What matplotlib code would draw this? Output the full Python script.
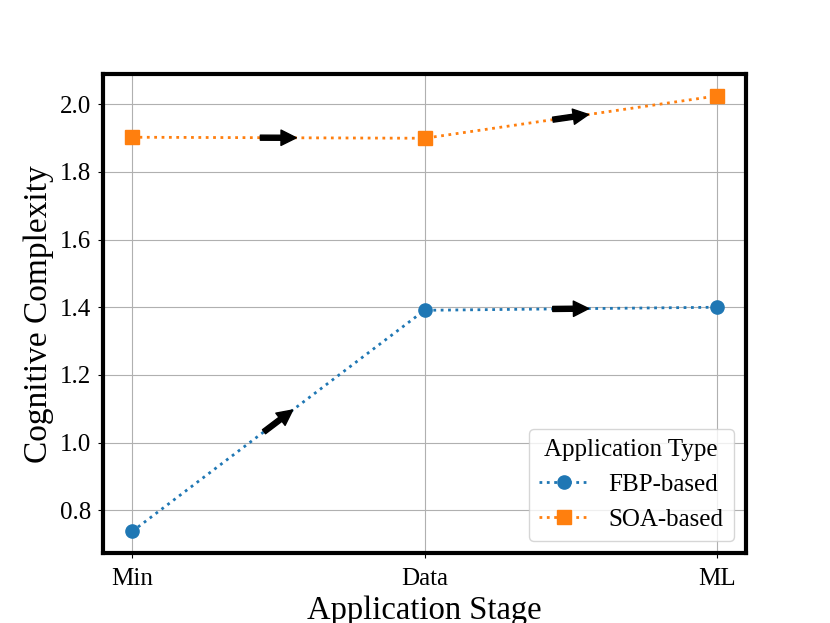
import numpy as np
import matplotlib.pyplot as plt

plt.rcParams['font.family'] = ['Liberation Serif', 'DejaVu Serif']

stages = ['Min', 'Data', 'ML']
fbp = [0.738, 1.391, 1.400]
soa = [1.902, 1.899, 2.024]

fig, ax = plt.subplots(figsize=(8.3, 6.23), dpi=100)
fig.subplots_adjust(left=0.124, right=0.899, top=0.881, bottom=0.112)

x = list(range(len(stages)))
ax.plot(x, fbp, linestyle=':', linewidth=2, marker='o', markersize=9.5, color='#1f77b4', label='FBP-based')
ax.plot(x, soa, linestyle=':', linewidth=2, marker='s', markersize=9.5, color='#ff7f0e', label='SOA-based')

ax.set_xticks(x)
ax.set_xticklabels(stages)
ax.tick_params(labelsize=18)
ax.tick_params(axis='x', pad=7)
ax.tick_params(axis='y', pad=5)
ax.set_xlabel('Application Stage', fontsize=23.5)
ax.set_ylabel('Cognitive Complexity', fontsize=24)
ax.grid(True, color='#b0b0b0', linewidth=0.8)
for s in ax.spines.values():
    s.set_linewidth(3)

ax.legend(title='Application Type', fontsize=18, title_fontsize=18, loc='lower right')

# arrows in the middle of each segment, same length on screen
ax.get_xlim(); ax.get_ylim()
tr = ax.transData
half = 18  # pixels
for ys in [fbp, soa]:
    for i in range(len(x) - 1):
        p0 = tr.transform((x[i], ys[i]))
        p1 = tr.transform((x[i + 1], ys[i + 1]))
        mid = (p0 + p1) / 2
        d = (p1 - p0) / np.hypot(*(p1 - p0))
        a = tr.inverted().transform(mid - d * half)
        b = tr.inverted().transform(mid + d * half)
        ax.annotate('', xy=tuple(b), xytext=tuple(a),
                    arrowprops=dict(arrowstyle='simple,head_length=0.85,head_width=0.85,tail_width=0.28',
                                    color='black', mutation_scale=13, shrinkA=0, shrinkB=0))

plt.savefig('out.png')
